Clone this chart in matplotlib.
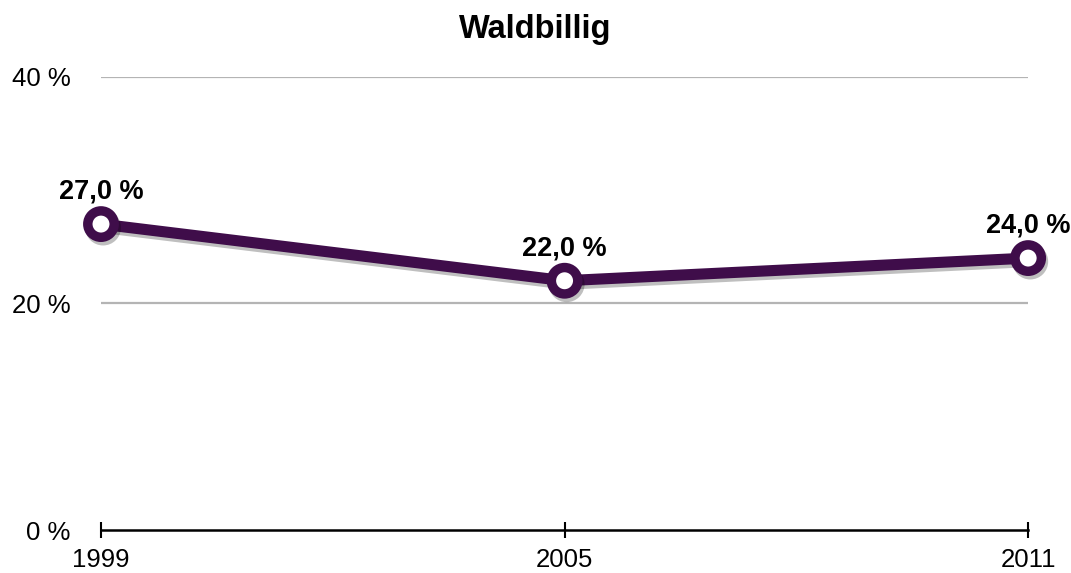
import matplotlib
matplotlib.use("Agg")
import matplotlib.pyplot as plt
import matplotlib.patheffects as pe

# data
years = [1999, 2005, 2011]
values = [27.0, 22.0, 24.0]
yticks = [0, 20, 40]
title = "Waldbillig"

purple = "#3f0d4a"
plt.rcParams["font.family"] = ["Liberation Sans", "DejaVu Sans"]

fig = plt.figure(figsize=(10.71, 5.73), dpi=100)
ax = fig.add_axes([0.0943, 0.075, 0.8657, 0.791])

# grid lines
for t in yticks[1:]:
    ax.axhline(t, color="#b4b4b4", lw=1.6, zorder=1)

ax.plot(years, values, color=purple, lw=8, marker="o", ms=19, mew=6.8,
        mfc="white", mec=purple, clip_on=False, zorder=3,
        path_effects=[pe.SimpleLineShadow(offset=(1.5, -2.5), alpha=0.25),
                      pe.Normal()])

for x, v in zip(years, values):
    ax.annotate(f"{v:.1f} %".replace(".", ","), (x, v), xytext=(0, 14),
                textcoords="offset points", ha="center", va="bottom",
                fontsize=19.5, fontweight="bold")

ax.set_xlim(1999, 2011)
ax.set_ylim(0, 40)
ax.set_xticks(years)
ax.set_xticklabels([str(y) for y in years], fontsize=18.5)
ax.set_yticks(yticks)
ax.set_yticklabels([f"{t} %" for t in yticks], fontsize=18.5)

for s in ["left", "right", "top"]:
    ax.spines[s].set_visible(False)
ax.spines["bottom"].set_linewidth(1.8)
ax.spines["bottom"].set_zorder(2)
ax.tick_params(axis="y", length=0, pad=22)
ax.tick_params(axis="x", direction="inout", length=12, width=1.5, pad=7)

fig.suptitle(title, fontsize=23.5, fontweight="bold", y=0.975)

fig.savefig("out.png", dpi=100)
